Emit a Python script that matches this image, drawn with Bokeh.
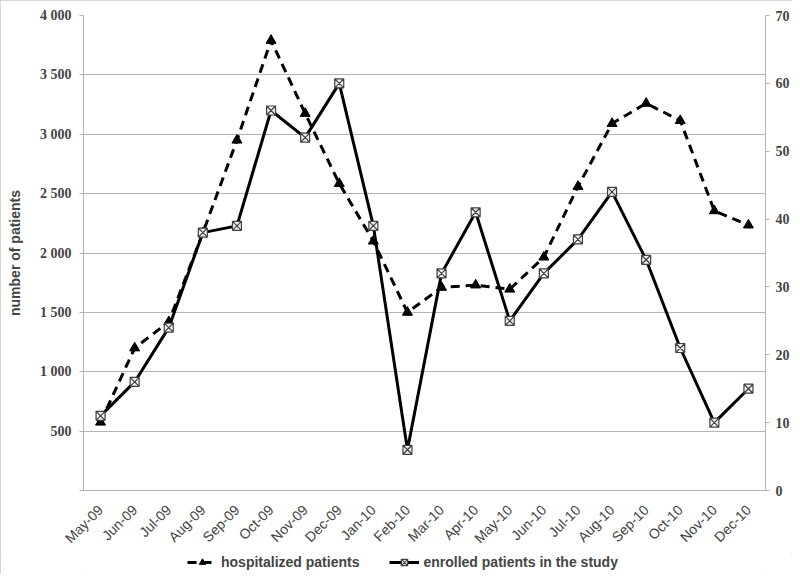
from bokeh.plotting import figure
from bokeh.models import (Range1d, LinearAxis, FixedTicker, Legend, LegendItem,
                          ColumnDataSource, FactorRange)
from bokeh.layouts import column
from bokeh.embed import file_html
from bokeh.resources import INLINE

months = ["May-09", "Jun-09", "Jul-09", "Aug-09", "Sep-09", "Oct-09", "Nov-09",
          "Dec-09", "Jan-10", "Feb-10", "Mar-10", "Apr-10", "May-10", "Jun-10",
          "Jul-10", "Aug-10", "Sep-10", "Oct-10", "Nov-10", "Dec-10"]
hospitalized = [575, 1200, 1420, 2170, 2950, 3790, 3175, 2585, 2100, 1500,
                1710, 1730, 1695, 1965, 2560, 3090, 3260, 3115, 2355, 2235]
enrolled = [11, 16, 24, 38, 39, 56, 52, 60, 39, 6, 32, 41, 25, 32, 37, 44, 34,
            21, 10, 15]

left_ticks = [0, 500, 1000, 1500, 2000, 2500, 3000, 3500, 4000]
left_labels = ["", "500", "1 000", "1 500", "2 000", "2 500", "3 000", "3 500", "4 000"]
right_ticks = [0, 10, 20, 30, 40, 50, 60, 70]
right_labels = ["0", "10", "20", "30", "40", "50", "60", "70"]

src = ColumnDataSource(data=dict(m=months, h=hospitalized, e=enrolled))

W = 792
p = figure(width=W, height=554, output_backend="svg", toolbar_location=None,
           x_range=FactorRange(*months), y_range=Range1d(0, 4000),
           min_border_left=83, min_border_right=27, min_border_top=15,
           min_border_bottom=64)
p.extra_y_ranges = {"right": Range1d(0, 70)}
p.outline_line_color = None

GRID = "#b4b4b4"

# left axis
ya = p.yaxis[0]
ya.ticker = FixedTicker(ticks=left_ticks)
ya.major_label_overrides = {t: l for t, l in zip(left_ticks, left_labels)}
ya.axis_label = "number of patients"
ya.axis_label_text_font = "Liberation Sans"
ya.axis_label_text_font_style = "bold"
ya.axis_label_text_font_size = "14px"
ya.axis_label_standoff = 14
ya.major_label_text_font = "Liberation Serif"
ya.major_label_text_font_style = "bold"
ya.major_label_text_font_size = "14px"
ya.major_label_standoff = 8
ya.axis_line_color = GRID
ya.major_tick_line_color = GRID
ya.major_tick_out = 4
ya.major_tick_in = 0
ya.minor_tick_line_color = None

# right axis
ra = LinearAxis(y_range_name="right", ticker=FixedTicker(ticks=right_ticks))
ra.major_label_overrides = {t: l for t, l in zip(right_ticks, right_labels)}
ra.major_label_text_font = "Liberation Serif"
ra.major_label_text_font_style = "bold"
ra.major_label_text_font_size = "14px"
ra.major_label_standoff = 6
ra.axis_line_color = GRID
ra.major_tick_line_color = GRID
ra.major_tick_out = 4
ra.major_tick_in = 0
ra.minor_tick_line_color = None
p.add_layout(ra, "right")

# x axis
xa = p.xaxis[0]
xa.major_label_orientation = 0.785398
xa.major_label_text_font = "Liberation Sans"
xa.major_label_text_font_size = "14px"
xa.major_label_standoff = 11
xa.axis_line_color = GRID
xa.major_tick_line_color = None
xa.minor_tick_line_color = None

p.xgrid.grid_line_color = None
p.ygrid.grid_line_color = GRID
p.ygrid.ticker = FixedTicker(ticks=left_ticks)

HOSP_LINE = dict(line_color="black", line_width=3, line_dash="9 6")
HOSP_MARK = dict(marker="triangle", size=10, fill_color="black", line_color="black")
ENR_LINE = dict(line_color="black", line_width=3)
ENR_MARK = dict(marker="square_x", size=9, fill_color="#f0f0f0",
                line_color="#404040", line_width=1.2)

p.line("m", "h", source=src, **HOSP_LINE)
p.scatter("m", "h", source=src, **HOSP_MARK)
p.line("m", "e", source=src, y_range_name="right", **ENR_LINE)
p.scatter("m", "e", source=src, y_range_name="right", **ENR_MARK)

# legend strip (same data, drawn outside its visible range; only the legend shows)
q = figure(width=W, height=20, output_backend="svg", toolbar_location=None,
           x_range=FactorRange(*months), y_range=Range1d(-2, -1),
           x_axis_type=None, y_axis_type=None,
           min_border=0, min_border_left=0, min_border_right=0,
           min_border_top=0, min_border_bottom=0)
q.grid.grid_line_color = None
q.outline_line_color = None
r1 = q.line("m", "h", source=src, **HOSP_LINE)
r2 = q.scatter("m", "h", source=src, **HOSP_MARK)
r3 = q.line("m", "e", source=src, **ENR_LINE)
r4 = q.scatter("m", "e", source=src, **ENR_MARK)

legend = Legend(items=[LegendItem(label="hospitalized patients", renderers=[r1, r2]),
                       LegendItem(label="enrolled patients in the study", renderers=[r3, r4])],
                orientation="horizontal", location=(104, 4),
                label_text_font="Liberation Sans", label_text_font_style="bold",
                label_text_font_size="14px", glyph_width=30, glyph_height=16,
                label_height=16, spacing=30,
                label_standoff=4, border_line_color=None,
                background_fill_alpha=0, padding=0, margin=0)
q.add_layout(legend)

layout = column(p, q, spacing=0)
layout.styles = {"outline": "1px solid #c8c8c8", "outline-offset": "-1px"}

open("out.html", "w").write(file_html(layout, INLINE))
